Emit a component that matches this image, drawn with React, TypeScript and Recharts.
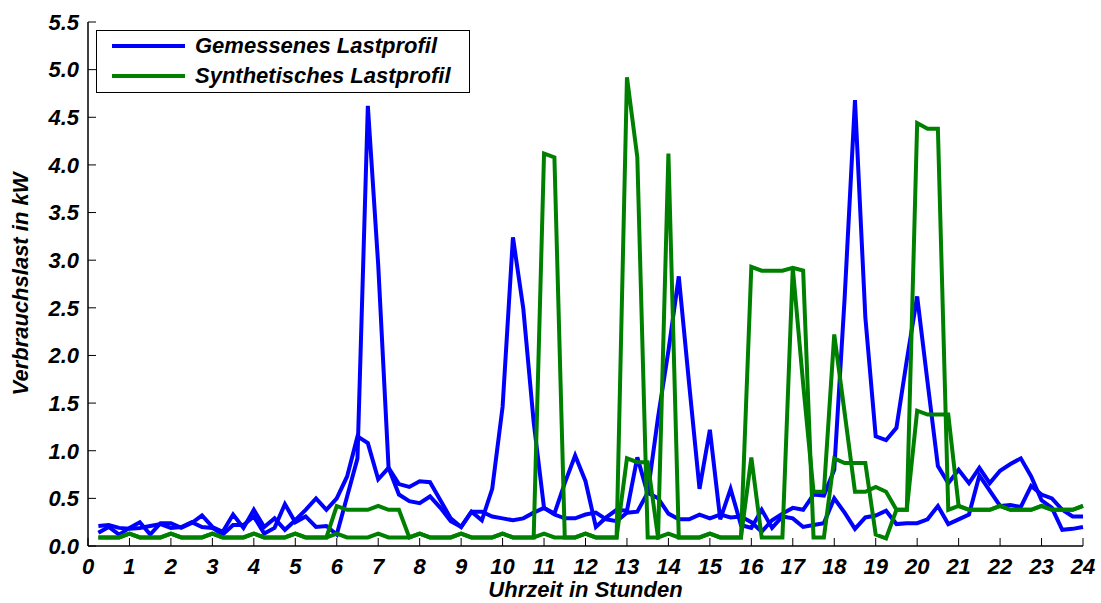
import { LineChart, Line, XAxis, YAxis, Legend } from 'recharts';

// Uhrzeit (15-Minuten-Raster)
const hours = [
  0.25, 0.5, 0.75, 1, 1.25, 1.5, 1.75, 2,
  2.25, 2.5, 2.75, 3, 3.25, 3.5, 3.75, 4,
  4.25, 4.5, 4.75, 5, 5.25, 5.5, 5.75, 6,
  6.25, 6.5, 6.75, 7, 7.25, 7.5, 7.75, 8,
  8.25, 8.5, 8.75, 9, 9.25, 9.5, 9.75, 10,
  10.25, 10.5, 10.75, 11, 11.25, 11.5, 11.75, 12,
  12.25, 12.5, 12.75, 13, 13.25, 13.5, 13.75, 14,
  14.25, 14.5, 14.75, 15, 15.25, 15.5, 15.75, 16,
  16.25, 16.5, 16.75, 17, 17.25, 17.5, 17.75, 18,
  18.25, 18.5, 18.75, 19, 19.25, 19.5, 19.75, 20,
  20.25, 20.5, 20.75, 21, 21.25, 21.5, 21.75, 22,
  22.25, 22.5, 22.75, 23, 23.25, 23.5, 23.75, 24,
];

// Gemessenes Lastprofil (zwei Messtage)
const gemessenA = [
  0.21, 0.22, 0.19, 0.18, 0.19, 0.21, 0.23, 0.19,
  0.20, 0.25, 0.20, 0.19, 0.12, 0.22, 0.22, 0.31,
  0.13, 0.19, 0.44, 0.25, 0.31, 0.20, 0.21, 0.12,
  0.52, 0.92, 4.62, 2.95, 0.82, 0.54, 0.47, 0.45,
  0.52, 0.40, 0.26, 0.20, 0.36, 0.27, 0.60, 1.46,
  3.24, 2.49, 1.30, 0.40, 0.34, 0.66, 0.95, 0.68,
  0.20, 0.30, 0.38, 0.37, 0.93, 0.55, 1.35, 2.05,
  2.83, 1.70, 0.60, 1.22, 0.28, 0.60, 0.22, 0.19,
  0.38, 0.19, 0.31, 0.29, 0.20, 0.22, 0.24, 0.50,
  0.35, 0.18, 0.30, 0.32, 0.37, 0.23, 0.24, 0.24,
  0.28, 0.42, 0.23, 0.28, 0.33, 0.74, 0.58, 0.42,
  0.43, 0.41, 0.63, 0.54, 0.50, 0.38, 0.31, 0.31,
];
const gemessenB = [
  0.14, 0.20, 0.12, 0.19, 0.25, 0.12, 0.24, 0.24,
  0.19, 0.24, 0.32, 0.20, 0.15, 0.33, 0.19, 0.38,
  0.20, 0.29, 0.17, 0.27, 0.38, 0.50, 0.38, 0.50,
  0.73, 1.15, 1.08, 0.70, 0.82, 0.65, 0.62, 0.68,
  0.67, 0.48, 0.29, 0.20, 0.36, 0.36, 0.31, 0.29,
  0.27, 0.29, 0.35, 0.40, 0.33, 0.29, 0.29, 0.33,
  0.35, 0.28, 0.26, 0.35, 0.36, 0.56, 0.50, 0.34,
  0.28, 0.28, 0.33, 0.29, 0.33, 0.30, 0.31, 0.25,
  0.15, 0.27, 0.34, 0.40, 0.38, 0.54, 0.53, 0.80,
  2.60, 4.68, 2.40, 1.15, 1.11, 1.24, 1.95, 2.62,
  1.72, 0.84, 0.66, 0.80, 0.66, 0.82, 0.66, 0.79,
  0.86, 0.92, 0.73, 0.48, 0.40, 0.17, 0.18, 0.20,
];

// Synthetisches Lastprofil (zwei Tage)
const synthA = [
  0.09, 0.09, 0.09, 0.13, 0.09, 0.09, 0.09, 0.13,
  0.09, 0.09, 0.09, 0.13, 0.09, 0.09, 0.09, 0.13,
  0.09, 0.09, 0.09, 0.13, 0.09, 0.09, 0.09, 0.42,
  0.38, 0.38, 0.38, 0.42, 0.38, 0.38, 0.09, 0.13,
  0.09, 0.09, 0.09, 0.13, 0.09, 0.09, 0.09, 0.13,
  0.09, 0.09, 0.09, 4.12, 4.08, 0.09, 0.09, 0.13,
  0.09, 0.09, 0.09, 4.92, 4.08, 0.09, 0.09, 4.12,
  0.09, 0.09, 0.09, 0.13, 0.09, 0.09, 0.09, 2.93,
  2.89, 2.89, 2.89, 2.92, 2.89, 0.09, 0.09, 0.92,
  0.87, 0.87, 0.87, 0.12, 0.08, 0.38, 0.38, 1.42,
  1.38, 1.38, 1.38, 0.42, 0.38, 0.38, 0.38, 0.42,
  0.38, 0.38, 0.38, 0.42, 0.38, 0.38, 0.38, 0.42,
];
const synthB = [
  0.09, 0.09, 0.09, 0.13, 0.09, 0.09, 0.09, 0.13,
  0.09, 0.09, 0.09, 0.13, 0.09, 0.09, 0.09, 0.13,
  0.09, 0.09, 0.09, 0.13, 0.09, 0.09, 0.09, 0.13,
  0.09, 0.09, 0.09, 0.13, 0.09, 0.09, 0.09, 0.13,
  0.09, 0.09, 0.09, 0.13, 0.09, 0.09, 0.09, 0.13,
  0.09, 0.09, 0.09, 0.13, 0.09, 0.09, 0.09, 0.13,
  0.09, 0.09, 0.09, 0.92, 0.88, 0.88, 0.09, 0.13,
  0.09, 0.09, 0.09, 0.13, 0.09, 0.09, 0.09, 0.93,
  0.09, 0.09, 0.09, 2.92, 1.70, 0.57, 0.57, 2.22,
  1.40, 0.57, 0.57, 0.62, 0.57, 0.38, 0.38, 4.44,
  4.38, 4.38, 0.38, 0.42, 0.38, 0.38, 0.38, 0.42,
  0.38, 0.38, 0.38, 0.42, 0.38, 0.38, 0.38, 0.42,
];

const xTicks = [0, 1, 2, 3, 4, 5, 6, 7, 8, 9, 10, 11, 12, 13, 14, 15, 16, 17, 18, 19, 20, 21, 22, 23, 24];
const yTicks = [0, 0.5, 1, 1.5, 2, 2.5, 3, 3.5, 4, 4.5, 5, 5.5];

const data = hours.map((h, i) => ({
  h,
  gA: gemessenA[i],
  gB: gemessenB[i],
  sA: synthA[i],
  sB: synthB[i],
}));

const BLUE = '#0000ff';
const GREEN = '#008000';
const font = "'Liberation Sans', Arial, sans-serif";
const textStyle = { fill: '#000', fontSize: 22, fontWeight: 'bold', fontStyle: 'italic', fontFamily: font };
const axisLine = { stroke: '#000', strokeWidth: 1.5 };

const LegendBox = () => (
  <div
    style={{
      border: '1.5px solid #000',
      background: '#fff',
      width: 372,
      height: 61,
      boxSizing: 'content-box',
      fontFamily: font,
      fontWeight: 'bold',
      fontStyle: 'italic',
      fontSize: 22,
      color: '#000',
    }}
  >
    {[
      { name: 'Gemessenes Lastprofil', color: BLUE },
      { name: 'Synthetisches Lastprofil', color: GREEN },
    ].map((item) => (
      <div key={item.name} style={{ display: 'flex', alignItems: 'center', height: 30 }}>
        <div style={{ width: 73, height: 4, background: item.color, marginLeft: 15, marginRight: 10 }} />
        <span>{item.name}</span>
      </div>
    ))}
  </div>
);

export default function App() {
  return (
    <div style={{ position: 'absolute', left: 0, top: 0, background: '#fff' }}>
      <LineChart width={1101} height={603} data={data} margin={{ top: 22, right: 18, bottom: 0, left: 0 }}>
        <XAxis
          dataKey="h"
          type="number"
          domain={[0, 24]}
          ticks={xTicks}
          interval={0}
          height={57}
          tickSize={-8}
          tickMargin={20}
          axisLine={axisLine}
          tickLine={{ stroke: '#000' }}
          tick={textStyle}
          label={{ value: 'Uhrzeit in Stunden', position: 'insideBottom', offset: 6, style: textStyle }}
        />
        <XAxis
          xAxisId="top"
          orientation="top"
          dataKey="h"
          type="number"
          domain={[0, 24]}
          ticks={xTicks}
          interval={0}
          height={0}
          tickSize={-8}
          tick={false}
          axisLine={axisLine}
          tickLine={{ stroke: '#000' }}
        />
        <YAxis
          type="number"
          domain={[0, 5.5]}
          ticks={yTicks}
          interval={0}
          width={88}
          tickSize={-8}
          tickMargin={17}
          tickFormatter={(v: number) => v.toFixed(1)}
          axisLine={axisLine}
          tickLine={{ stroke: '#000' }}
          tick={textStyle}
          label={{ value: 'Verbrauchslast in kW', angle: -90, position: 'insideLeft', offset: 20, style: { ...textStyle, textAnchor: 'middle' } }}
        />
        <YAxis
          yAxisId="right"
          orientation="right"
          type="number"
          domain={[0, 5.5]}
          ticks={yTicks}
          interval={0}
          width={0}
          tickSize={-8}
          tick={false}
          axisLine={axisLine}
          tickLine={{ stroke: '#000' }}
        />
        <Legend
          layout="horizontal"
          verticalAlign="middle"
          align="center"
          content={<LegendBox />}
          wrapperStyle={{ left: 96, top: 30, width: 'auto' }}
        />
        <Line type="linear" dataKey="gA" name="Gemessenes Lastprofil" stroke={BLUE} strokeWidth={4} dot={false} isAnimationActive={false} />
        <Line type="linear" dataKey="gB" stroke={BLUE} strokeWidth={4} dot={false} legendType="none" isAnimationActive={false} />
        <Line type="linear" dataKey="sA" name="Synthetisches Lastprofil" stroke={GREEN} strokeWidth={4} dot={false} isAnimationActive={false} />
        <Line type="linear" dataKey="sB" stroke={GREEN} strokeWidth={4} dot={false} legendType="none" isAnimationActive={false} />
      </LineChart>
    </div>
  );
}
